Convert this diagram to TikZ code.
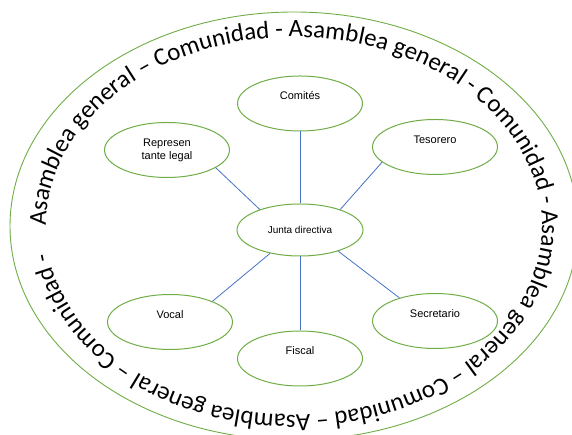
\documentclass[tikz,border=0pt]{standalone}
\usepackage{fontspec}
\setmainfont{Liberation Sans}
\newfontfamily\arcfont{Carlito}
\usepackage{tikz}
\usetikzlibrary{positioning,shapes.geometric,decorations.text}
\definecolor{leafgreen}{RGB}{112,173,71}
\definecolor{linkblue}{RGB}{68,114,196}
\tikzset{
  role/.style={ellipse, draw=leafgreen, line width=1pt, fill=white,
    minimum width=125pt, minimum height=55pt, font=\fontsize{11}{13}\selectfont},
  lifted/.style={text height=8pt, text depth=15pt},
  link/.style={draw=linkblue, line width=0.8pt}
}

\begin{document}
\begin{tikzpicture}[x=1pt,y=1pt]
        \useasboundingbox (0,0) rectangle (572,435);
        %% outer ring
        \coordinate (mid) at (294,209);
        \draw[leafgreen, line width=0.9pt] (mid) ellipse [x radius=284pt, y radius=214pt];
        \path[decorate, decoration={text along path, text align=left,
            text={|\arcfont\fontsize{24.9}{29}\selectfont|Asamblea general – Comunidad - Asamblea general - Comunidad - Asamblea general – Comunidad – Asamblea general – Comunidad -}}]
            (mid) ++(-248,0) arc [start angle=180, end angle=-179, x radius=248pt, y radius=189pt];

        \node (junta)[role, minimum width=126pt, minimum height=52pt, font=\fontsize{10}{12}\selectfont] at (300,205) {Junta directiva};
        \node (com)[role, lifted, above=72pt of junta] {Comités};
        \node (fis)[role, lifted, below=74pt of junta] {Fiscal};
        \node (rep)[role, align=center] at (167,285) {Represen\\tante legal};
        \node (tes)[role, lifted] at (435,288) {Tesorero};
        \node (voc)[role, lifted] at (170,113) {Vocal};
        \node (sec)[role, lifted] at (435,114) {Secretario};

        \draw[link] (com) -- (junta);
        \draw[link] (rep.-20) -- (junta.153);
        \draw[link] (tes.196) -- (junta.27);
        \draw[link] (voc.26) -- (junta.218);
        \draw[link] (fis) -- (junta);
        \draw[link] (sec.147) -- (junta.-29);

      \end{tikzpicture}
\end{document}
